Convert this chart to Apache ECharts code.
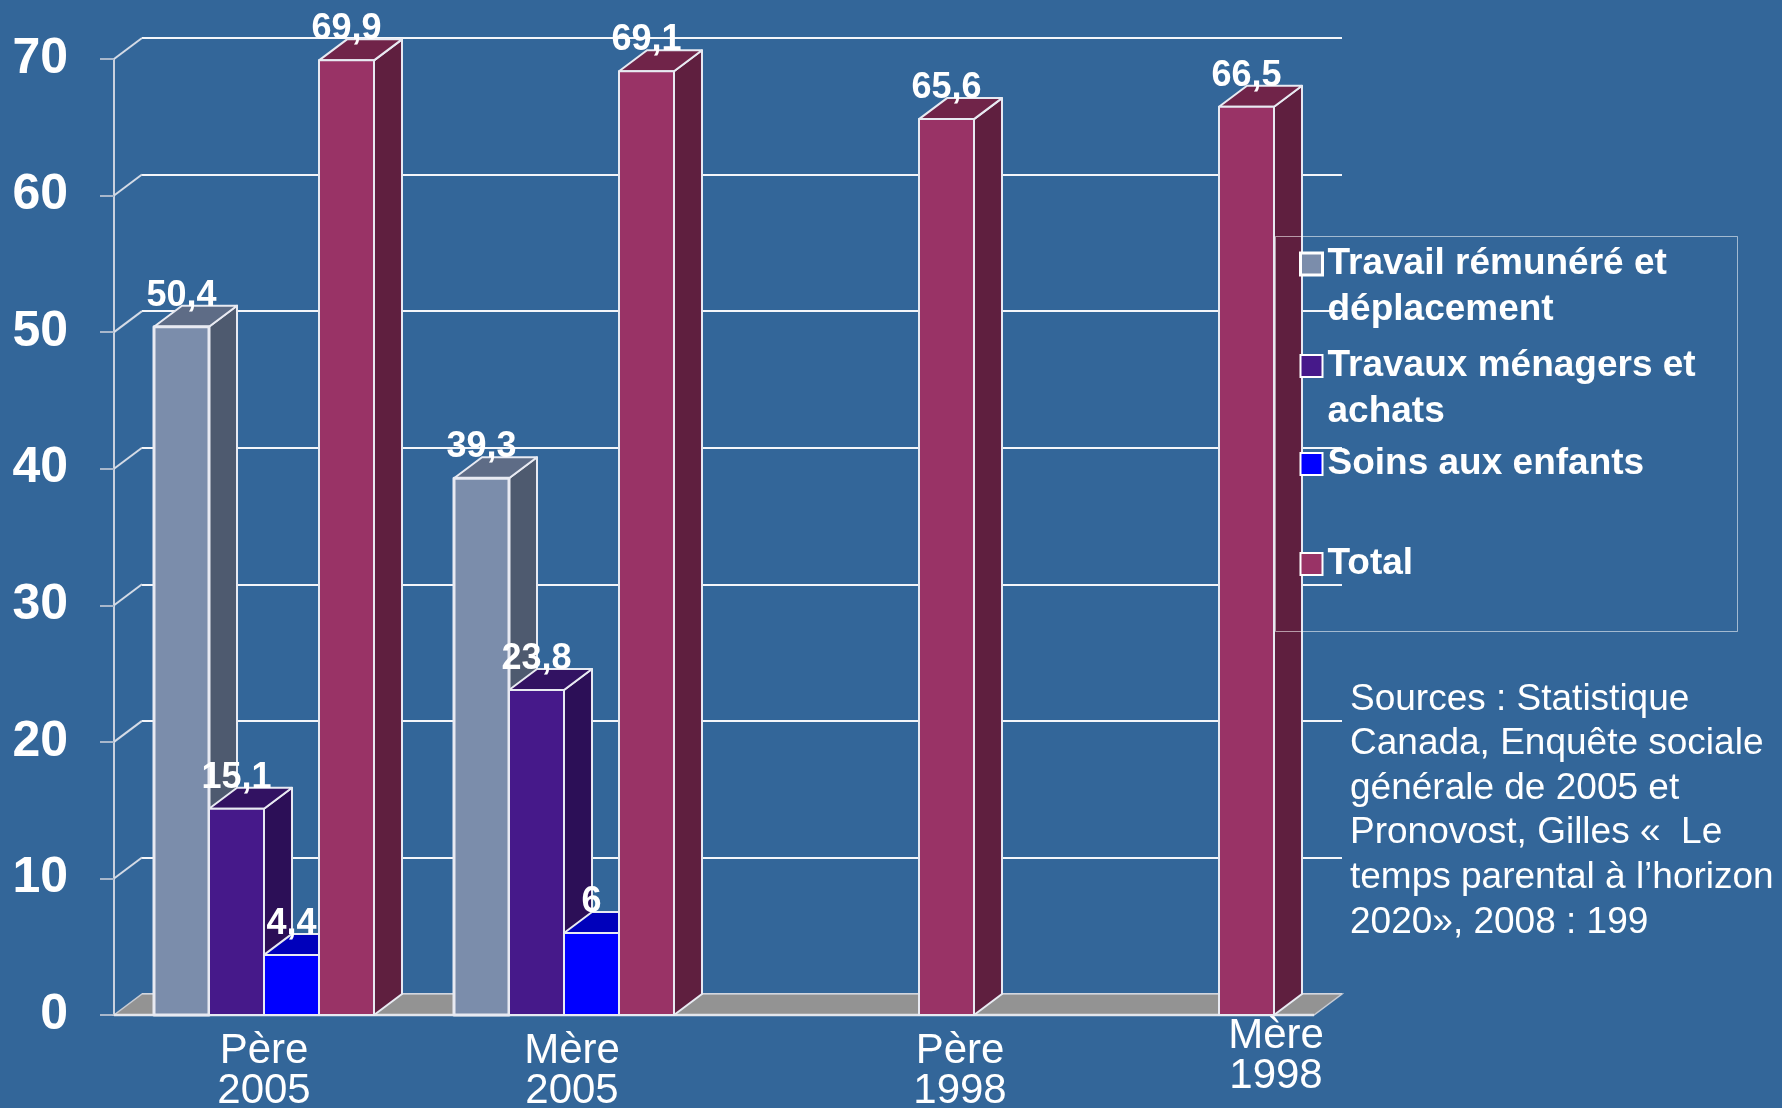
<!DOCTYPE html>
<html><head><meta charset="utf-8">
<script src="https://cdn.jsdelivr.net/npm/echarts@6/dist/echarts.min.js"></script>
<style>html,body{margin:0;padding:0;background:#336699;} #c{width:1782px;height:1108px;}</style>
</head><body><div id="c"></div>
<script>
// ---------- data ----------
const categories = ['Père\n2005', 'Mère\n2005', 'Père\n1998', 'Mère\n1998'];
const seriesNames = ['Travail rémunéré et déplacement', 'Travaux ménagers et achats', 'Soins aux enfants', 'Total'];
const legendLabels = ['Travail rémunéré et\ndéplacement', 'Travaux ménagers et\nachats', 'Soins aux enfants', 'Total'];
const travail = [50.4, 39.3, null, null];
const menages = [15.1, 23.8, null, null];
const soins = [4.4, 6, null, null];
const total = [69.9, 69.1, 65.6, 66.5];
const yTicks = [0, 10, 20, 30, 40, 50, 60, 70];
const sourceLines = [
  'Sources : Statistique',
  'Canada, Enquête sociale',
  'générale de 2005 et',
  'Pronovost, Gilles «  Le',
  'temps parental à l’horizon',
  '2020», 2008 : 199'
];

// ---------- style ----------
const FONT = '"Liberation Sans", Arial, sans-serif';
const DX = 28, DY = 21;          // 3D depth offset (px)
const CAT_GAP = 0.2667;          // fraction of category left empty
const palette = [
  {front: '#7b8dab', top: '#5e6c86', side: '#4e5a6f'},
  {front: '#46198a', top: '#321262', side: '#2c0f57'},
  {front: '#0000ff', top: '#0000bb', side: '#00009a'},
  {front: '#993366', top: '#702449', side: '#5f1f3f'}
];
const seriesValues = [travail, menages, soins, total];
const NS = seriesValues.length;
const EDGE = {stroke: '#e8eaf2', lineWidth: 2, lineJoin: 'round'};

function fmt(v) { return String(v).replace('.', ','); }

function barRenderer(s) {
  const c = palette[s];
  return function (params, api) {
    const cat = api.value(0), val = api.value(1);
    if (isNaN(val)) return null;
    const catW = api.size([1, 0])[0];
    const bw = catW * (1 - CAT_GAP) / NS;
    const base = api.coord([cat, 0]);
    const topP = api.coord([cat, val]);
    const x0 = base[0] - bw * NS / 2 + s * bw, x1 = x0 + bw;
    const yb = base[1], yt = topP[1];
    return {type: 'group', children: [
      {type: 'polygon', shape: {points: [[x1, yt], [x1 + DX, yt - DY], [x1 + DX, yb - DY], [x1, yb]]},
        style: Object.assign({fill: c.side}, EDGE)},
      {type: 'polygon', shape: {points: [[x0, yt], [x0 + DX, yt - DY], [x1 + DX, yt - DY], [x1, yt]]},
        style: Object.assign({fill: c.top}, EDGE)},
      {type: 'rect', shape: {x: x0, y: yt, width: bw, height: yb - yt},
        style: Object.assign({fill: c.front}, EDGE, s === 0 ? {lineWidth: 3} : {})},
      {type: 'text', z2: 100, style: {text: fmt(val), x: (x0 + x1) / 2, y: yt - 31, align: 'center',
        verticalAlign: 'middle', fill: '#ffffff', fontSize: 36, fontWeight: 'bold', fontFamily: FONT}}
    ]};
  };
}

const barSeries = seriesValues.map((arr, s) => ({
  type: 'custom',
  name: seriesNames[s],
  xAxisIndex: 0, yAxisIndex: 0,
  z: 3,
  itemStyle: {color: palette[s].front},
  encode: {x: 0, y: 1},
  renderItem: barRenderer(s),
  data: arr.map((v, i) => [i, v == null ? '-' : v])
}));

const floorSeries = {
  type: 'custom', silent: true, z: 1, xAxisIndex: 0, yAxisIndex: 0,
  encode: {x: 0, y: 1},
  data: [[0, 0]],
  renderItem: function (params, api) {
    const cs = params.coordSys;
    const y0 = api.coord([0, 0])[1];
    const xl = cs.x, xr = cs.x + cs.width;
    return {type: 'group', children: [
      {type: 'polygon', shape: {points: [[xl, y0], [xr, y0], [xr + DX, y0 - DY], [xl + DX, y0 - DY]]},
        style: {fill: '#939393', stroke: '#c8ccd4', lineWidth: 1.5}},
      {type: 'line', shape: {x1: xl, y1: y0, x2: xr, y2: y0}, style: {stroke: '#e4e6ec', lineWidth: 2.5}}
    ]};
  }
};

const wallSeries = {
  type: 'custom', silent: true, z: 1, xAxisIndex: 0, yAxisIndex: 0,
  encode: {x: 0, y: 1},
  data: yTicks.slice(1).map(v => [0, v]),
  renderItem: function (params, api) {
    const cs = params.coordSys;
    const y = api.coord([0, api.value(1)])[1];
    return {type: 'line', shape: {x1: cs.x, y1: y, x2: cs.x + DX, y2: y - DY},
      style: {stroke: '#d4dbe6', lineWidth: 2}};
  }
};

const legendPad = [[0, 0, 0, 0], [0, 0, 0, 0], [42, 0, 42, 0], [48, 0, 48, 0]];
const labelStyles = [['a', 'a'], ['b', 'b'], ['c', 'c'], ['d1', 'd2']];
const xFont = {fontSize: 42, fontFamily: FONT, color: '#ffffff'};

const option = {
  backgroundColor: '#336699',
  animation: false,
  textStyle: {fontFamily: FONT},
  title: {
    text: sourceLines.join('\n'), left: 1350, top: 677, padding: 0,
    textStyle: {color: '#ffffff', fontSize: 37, fontWeight: 'normal', fontFamily: FONT, lineHeight: 44.6}
  },
  legend: {
    orient: 'vertical', left: 1299, top: 195, padding: 0, itemGap: -36,
    itemWidth: 22, itemHeight: 22, icon: 'rect', selectedMode: false,
    formatter: name => {
      const t = legendLabels[seriesNames.indexOf(name)];
      return t.indexOf('\n') >= 0 ? ' \n' + t : t;
    },
    textStyle: {color: '#ffffff', fontSize: 37, fontWeight: 'bold', fontFamily: FONT, lineHeight: 46},
    data: seriesNames.map((n, i) => ({
      name: n,
      itemStyle: {color: palette[i].front, borderColor: '#ffffff', borderWidth: i === 0 ? 3 : 2},
      textStyle: {padding: legendPad[i], backgroundColor: 'rgba(0,0,0,0)'}
    }))
  },
  graphic: [{
    type: 'rect', left: 1273, top: 234, z: 10, silent: true,
    shape: {width: 462, height: 395},
    style: {fill: 'none', stroke: 'rgba(255,255,255,0.55)', lineWidth: 1}
  }],
  grid: [
    {left: 114, right: 468, top: 59, bottom: 93, containLabel: false, outerBoundsMode: 'none'},
    {left: 142, right: 440, top: 38, bottom: 114, containLabel: false, outerBoundsMode: 'none'}
  ],
  xAxis: [
    {gridIndex: 0, type: 'category', data: categories, boundaryGap: true,
      axisLine: {show: false}, axisTick: {show: false}, splitLine: {show: false},
      axisLabel: {
        interval: 0, margin: 16, color: '#ffffff', fontSize: 42, fontFamily: FONT,
        formatter: (v, i) => {
          const st = labelStyles[i];
          const parts = v.split('\n');
          return '{' + st[0] + '|' + parts[0] + '}\n{' + st[1] + '|' + parts[1] + '}';
        },
        rich: {
          a: Object.assign({lineHeight: 40}, xFont),
          b: Object.assign({lineHeight: 40, padding: [0, 0, 0, 16]}, xFont),
          c: Object.assign({lineHeight: 40, padding: [0, 0, 0, 192]}, xFont),
          d1: Object.assign({lineHeight: 10, padding: [0, 0, 0, 224]}, xFont),
          d2: Object.assign({lineHeight: 70, padding: [0, 0, 0, 224]}, xFont)
        }
      }},
    {gridIndex: 1, type: 'category', data: categories, show: false}
  ],
  yAxis: [
    {gridIndex: 0, type: 'value', min: 0, max: 70, interval: 10,
      axisLine: {show: true, lineStyle: {color: '#c9d1de', width: 2}},
      axisTick: {show: true, inside: false, length: 14, lineStyle: {color: '#a9b8cc', width: 2}},
      splitLine: {show: false},
      axisLabel: {color: '#ffffff', fontSize: 50, fontWeight: 'bold', fontFamily: FONT, margin: 46}},
    {gridIndex: 1, type: 'value', min: 0, max: 70, interval: 10,
      axisLine: {show: false}, axisTick: {show: false}, axisLabel: {show: false},
      splitLine: {show: true, lineStyle: {color: '#f4f6fa', width: 2}}}
  ],
  series: [floorSeries, wallSeries].concat(barSeries)
};

const chart = echarts.init(document.getElementById('c'), null, {renderer: 'canvas'});
chart.setOption(option);
</script>
</body></html>
